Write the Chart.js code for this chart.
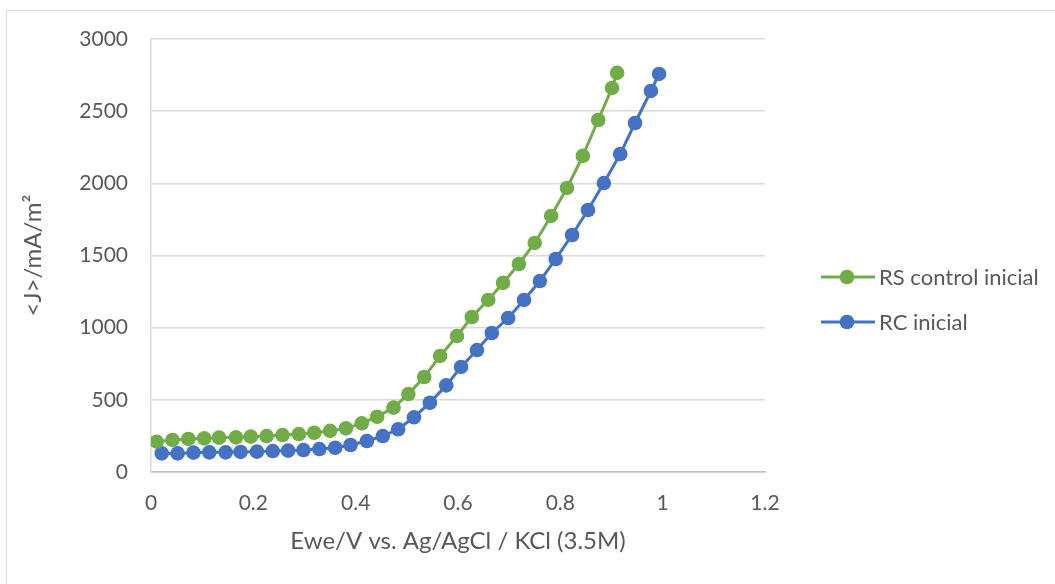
<!DOCTYPE html>
<html>
<head>
<meta charset="utf-8">
<script src="https://cdn.jsdelivr.net/npm/chart.js@4/dist/chart.umd.min.js"></script>
<style>
  html, body { margin: 0; padding: 0; background: #ffffff; }
  #wrap { position: relative; width: 1055px; height: 584px; overflow: hidden; }
  #frame { position: absolute; left: 6px; top: 10px; width: 1100px; height: 700px;
           border: 1.5px solid #d9d9d9; box-sizing: border-box; }
  #c { position: absolute; left: 0; top: 0; }
</style>
</head>
<body>
<div id="wrap">
  <div id="frame"></div>
  <canvas id="c" width="1055" height="584"></canvas>
</div>
<script>
// Linear sweep: potential (V vs Ag/AgCl) and current density (mA/m²)
const rsPotential = [0.011, 0.042, 0.073, 0.104, 0.133, 0.166, 0.195, 0.226, 0.257, 0.289,
                     0.319, 0.350, 0.381, 0.412, 0.442, 0.474, 0.503, 0.534, 0.565, 0.598,
                     0.627, 0.659, 0.688, 0.719, 0.750, 0.782, 0.813, 0.844, 0.874, 0.901, 0.911];
const rsCurrent   = [210, 222, 229, 233, 238, 240, 245, 249, 256, 263,
                     272, 285, 302, 337, 383, 446, 540, 658, 804, 942,
                     1074, 1192, 1310, 1441, 1587, 1774, 1968, 2190, 2439, 2661, 2765];

const rcPotential = [0.021, 0.052, 0.083, 0.114, 0.146, 0.175, 0.207, 0.238, 0.268, 0.298,
                     0.329, 0.360, 0.390, 0.422, 0.453, 0.483, 0.514, 0.545, 0.577, 0.606,
                     0.637, 0.666, 0.698, 0.729, 0.760, 0.791, 0.823, 0.854, 0.885, 0.917,
                     0.946, 0.977, 0.993];
const rcCurrent   = [129, 129, 134, 136, 136, 139, 141, 145, 148, 152,
                     159, 168, 187, 215, 249, 296, 379, 480, 600, 728,
                     845, 963, 1067, 1192, 1323, 1476, 1642, 1815, 2002, 2203,
                     2418, 2640, 2758];

const seriesNames = ['RS control inicial', 'RC inicial'];
const xTicks = [0, 0.2, 0.4, 0.6, 0.8, 1, 1.2];
const yTicks = [0, 500, 1000, 1500, 2000, 2500, 3000];

const FONT = 'Lato, "Open Sans", sans-serif';
const TEXT = '#595959';

const toPoints = (xs, ys) => xs.map((x, i) => ({ x, y: ys[i] }));

// Legend on the right: a short line with a marker, then the series name
const sideLegend = {
  id: 'sideLegend',
  afterDraw(chart) {
    const ctx = chart.ctx;
    const rows = [277, 322];
    ctx.save();
    chart.data.datasets.forEach((ds, i) => {
      const y = rows[i];
      ctx.strokeStyle = ds.borderColor;
      ctx.lineWidth = 3;
      ctx.beginPath();
      ctx.moveTo(821, y);
      ctx.lineTo(875, y);
      ctx.stroke();
      ctx.fillStyle = ds.backgroundColor;
      ctx.beginPath();
      ctx.arc(847, y, 7.3, 0, Math.PI * 2);
      ctx.fill();
      ctx.fillStyle = TEXT;
      ctx.font = '22px ' + FONT;
      ctx.textAlign = 'left';
      ctx.textBaseline = 'middle';
      ctx.fillText(ds.label, 879, y + 1);
    });
    ctx.restore();
  }
};

new Chart(document.getElementById('c'), {
  type: 'scatter',
  data: {
    datasets: [
      { label: seriesNames[0], data: toPoints(rsPotential, rsCurrent),
        borderColor: '#70ad47', backgroundColor: '#70ad47', showLine: true,
        borderWidth: 3, pointRadius: 7.3, pointHoverRadius: 7.3, pointBorderWidth: 0 },
      { label: seriesNames[1], data: toPoints(rcPotential, rcCurrent),
        borderColor: '#4472c4', backgroundColor: '#4472c4', showLine: true,
        borderWidth: 3, pointRadius: 7.3, pointHoverRadius: 7.3, pointBorderWidth: 0 }
    ]
  },
  options: {
    responsive: false,
    animation: false,
    layout: { padding: { left: 0, top: 39, right: 290, bottom: 0 } },
    plugins: { legend: { display: false }, tooltip: { enabled: false } },
    scales: {
      x: {
        type: 'linear', min: 0, max: 1.2,
        afterBuildTicks(scale) { scale.ticks = xTicks.map(v => ({ value: v })); },
        afterFit(scale) { scale.height = 112; },
        ticks: { color: TEXT, font: { family: FONT, size: 21 }, padding: 19,
                 callback: v => String(Math.round(v * 10) / 10) },
        grid: { display: false, drawTicks: false },
        border: { display: true, color: '#bfbfbf', width: 1.5 },
        title: { display: true, text: 'Ewe/V vs. Ag/AgCl / KCl (3.5M)', color: TEXT,
                 font: { family: FONT, size: 24, lineHeight: 1.2 }, padding: { top: 0, bottom: 28.6 } }
      },
      y: {
        type: 'linear', min: 0, max: 3000,
        afterBuildTicks(scale) { scale.ticks = yTicks.map(v => ({ value: v })); },
        afterFit(scale) { scale.width = 151; },
        ticks: { color: TEXT, font: { family: FONT, size: 21 }, padding: 23,
                 callback: v => String(v) },
        grid: { color: '#d9d9d9', lineWidth: 1.5, drawTicks: false },
        border: { display: true, color: '#d9d9d9', width: 1.5 },
        title: { display: true, text: '<J>/mA/m²', color: TEXT,
                 font: { family: FONT, size: 24, lineHeight: 1.2 }, padding: { top: 18.6, bottom: 0 } }
      }
    }
  },
  plugins: [sideLegend]
});
</script>
</body>
</html>
